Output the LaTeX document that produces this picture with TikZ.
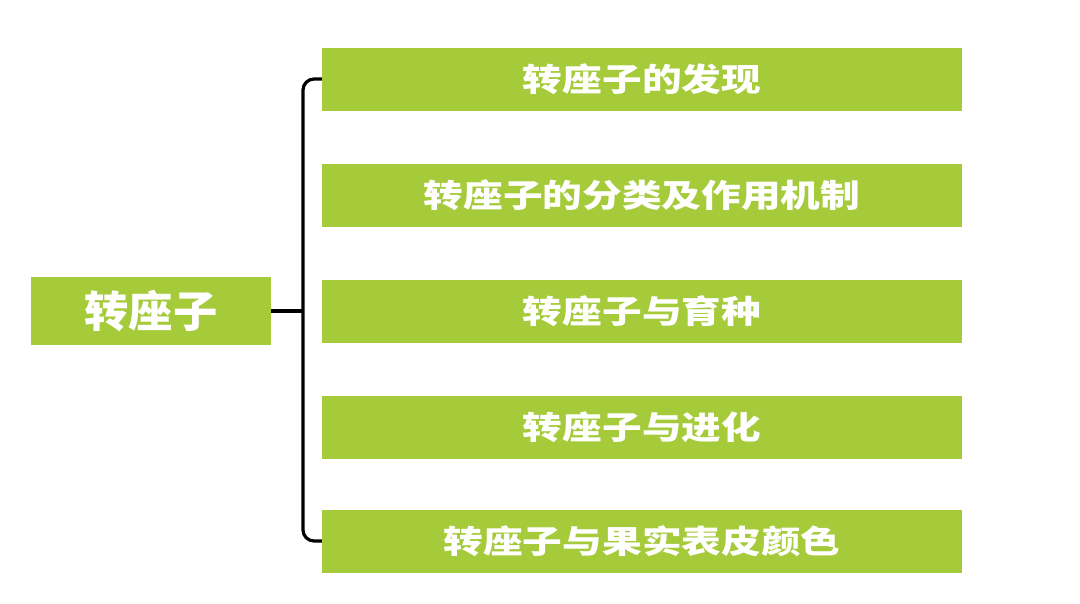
\documentclass[tikz,border=0pt]{standalone}
\usepackage{fontspec}
\usepackage{graphicx}
\newfontfamily\cjk{Noto Sans CJK SC}
\definecolor{leaf}{RGB}{165,203,58}
\tikzset{
  box/.style={fill=leaf, draw=none, inner sep=0pt, text=white, font=\cjk\bfseries},
  rootbox/.style={box, minimum width=240pt, minimum height=68pt},
  childbox/.style={box, minimum width=640pt, minimum height=63pt},
  conn/.style={line width=3.2pt, draw=black, rounded corners=11pt}
}
\newcommand{\ctext}[1]{\scalebox{1.24}[1]{\fontsize{32}{32}\selectfont #1}}
\newcommand{\rtext}[1]{\scalebox{1.03}[1]{\fontsize{43}{43}\selectfont #1}}
\begin{document}
\begin{tikzpicture}[x=1pt,y=-1pt]
\useasboundingbox (0,0) rectangle (1080,603);
\node[rootbox] (root) at (151,311) {\rtext{转座子}};
\node[childbox] (c1) at (642,79) {\ctext{转座子的发现}};
\node[childbox] (c2) at (642,195) {\ctext{转座子的分类及作用机制}};
\node[childbox] (c3) at (642,311) {\ctext{转座子与育种}};
\node[childbox] (c4) at (642,427) {\ctext{转座子与进化}};
\node[childbox] (c5) at (642,541) {\ctext{转座子与果实表皮颜色}};
\coordinate (bus) at (303,311);
\draw[conn] (c1.west) -| (bus) |- (c5.west);
\draw[conn] (root.east) -- (bus);
\end{tikzpicture}
\end{document}
